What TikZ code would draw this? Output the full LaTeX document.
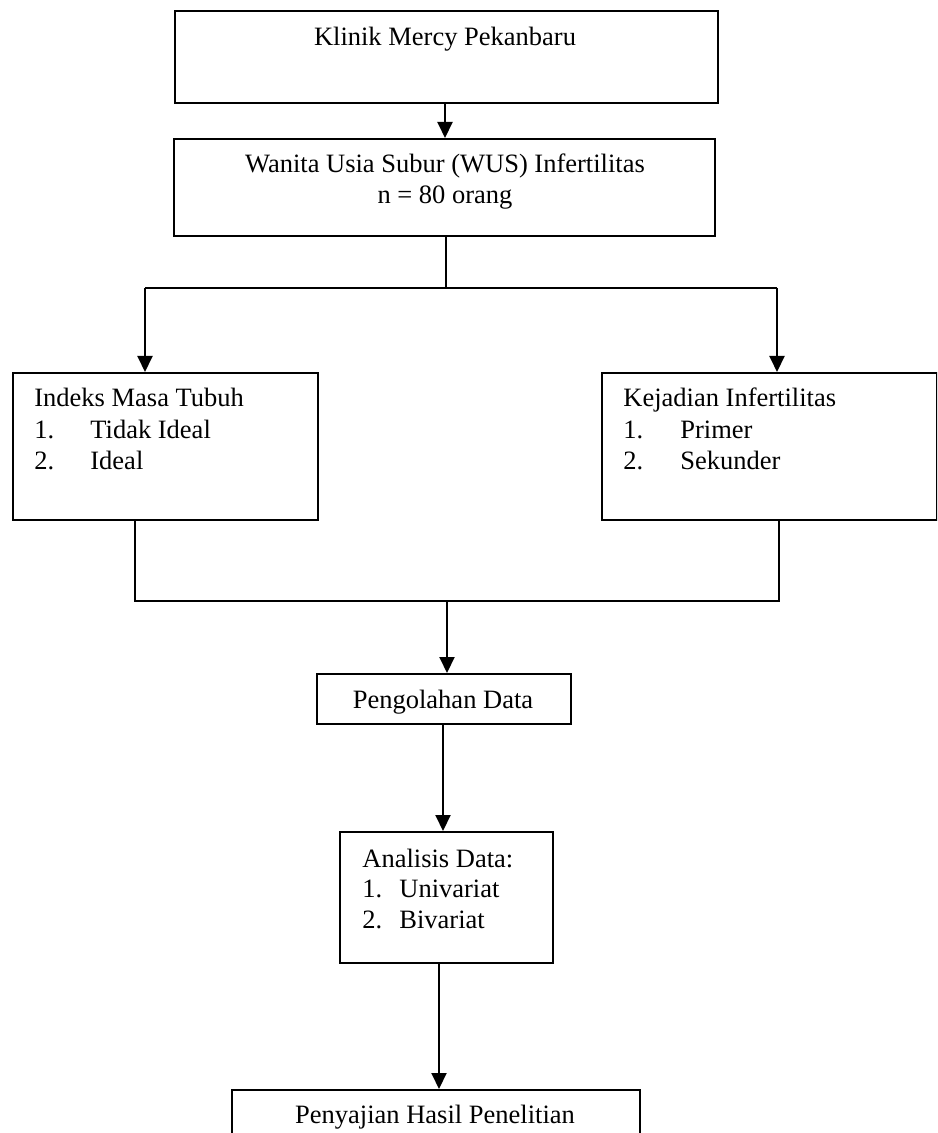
\documentclass[tikz,border=0pt]{standalone}
\usepackage{fontspec}
\setmainfont{Liberation Serif}
\usetikzlibrary{arrows.meta}
\tikzset{
  box/.style={draw, line width=0.9pt, inner sep=0pt, anchor=north west},
  txt/.style={inner sep=0pt, font=\fontsize{13.25}{15.5}\selectfont},
  ln/.style={line width=0.8pt},
  arr/.style={line width=1pt, -{Triangle[length=8pt,width=7.5pt]}}
}
\begin{document}
\begin{tikzpicture}[x=0.5pt,y=-0.5pt]
\useasboundingbox (0,0) rectangle (937,1133);
\clip (0,0) rectangle (937,1133);
% boxes
\node[box, minimum width=271.5pt, minimum height=46pt] (b1) at (174,10) {};
\node[box, minimum width=270.5pt, minimum height=48.5pt] (b2) at (173,138) {};
\node[box, minimum width=152.5pt, minimum height=73.5pt] (b3) at (12,372) {};
\node[box, minimum width=167.5pt, minimum height=73.5pt] (b4) at (601,372) {};
\node[box, minimum width=127pt, minimum height=25pt] (b5) at (316,673) {};
\node[box, minimum width=106.5pt, minimum height=65.5pt] (b6) at (339,831) {};
\node[box, minimum width=204pt, minimum height=40pt] (b7) at (231,1089) {};
% texts
\node[txt, anchor=base] (t1) at (445,46) {Klinik Mercy Pekanbaru};
\node[txt, anchor=base] (t2a) at (445,173) {Wanita Usia Subur (WUS) Infertilitas};
\node[txt, anchor=base] (t2b) at (445,204) {n = 80 orang};
\node[txt, anchor=base west] (t3) at (34,407) {Indeks Masa Tubuh};
\node[txt, anchor=base west] (t3n1) at (34,438) {1.};
\node[txt, anchor=base west] (t3i1) at (90,438) {Tidak Ideal};
\node[txt, anchor=base west] (t3n2) at (34,469) {2.};
\node[txt, anchor=base west] (t3i2) at (90,469) {Ideal};
\node[txt, anchor=base west] (t4) at (623,407) {Kejadian Infertilitas};
\node[txt, anchor=base west] (t4n1) at (623,438) {1.};
\node[txt, anchor=base west] (t4i1) at (680,438) {Primer};
\node[txt, anchor=base west] (t4n2) at (623,469) {2.};
\node[txt, anchor=base west] (t4i2) at (680,469) {Sekunder};
\node[txt, anchor=base] (t5) at (443,708) {Pengolahan Data};
\node[txt, anchor=base west] (t6) at (362,867) {Analisis Data:};
\node[txt, anchor=base west] (t6n1) at (362,897) {1.};
\node[txt, anchor=base west] (t6i1) at (399,897) {Univariat};
\node[txt, anchor=base west] (t6n2) at (362,928) {2.};
\node[txt, anchor=base west] (t6i2) at (399,928) {Bivariat};
\node[txt, anchor=base] (t7) at (435,1123) {Penyajian Hasil Penelitian};
% junction coordinates
\coordinate (j0) at (446,288);
\coordinate (jl) at (145,288);
\coordinate (jr) at (777,288);
\coordinate (kl) at (135,601);
\coordinate (kr) at (779,601);
\coordinate (k0) at (447,601);
% connectors
\draw[arr] (b1.south -| 445,0) -- (b2.north -| 445,0);
\draw[ln] (b2.south -| j0) -- (j0);
\draw[ln] (jl) -- (jr);
\draw[arr] (jl) -- (jl |- b3.north);
\draw[arr] (jr) -- (jr |- b4.north);
\draw[ln] (b3.south -| kl) -- (kl) -- (kr) -- (b4.south -| kr);
\draw[arr] (k0) -- (k0 |- b5.north);
\draw[arr] (b5.south -| 443,0) -- (b6.north -| 443,0);
\draw[arr] (b6.south -| 439,0) -- (b7.north -| 439,0);
\end{tikzpicture}
\end{document}
